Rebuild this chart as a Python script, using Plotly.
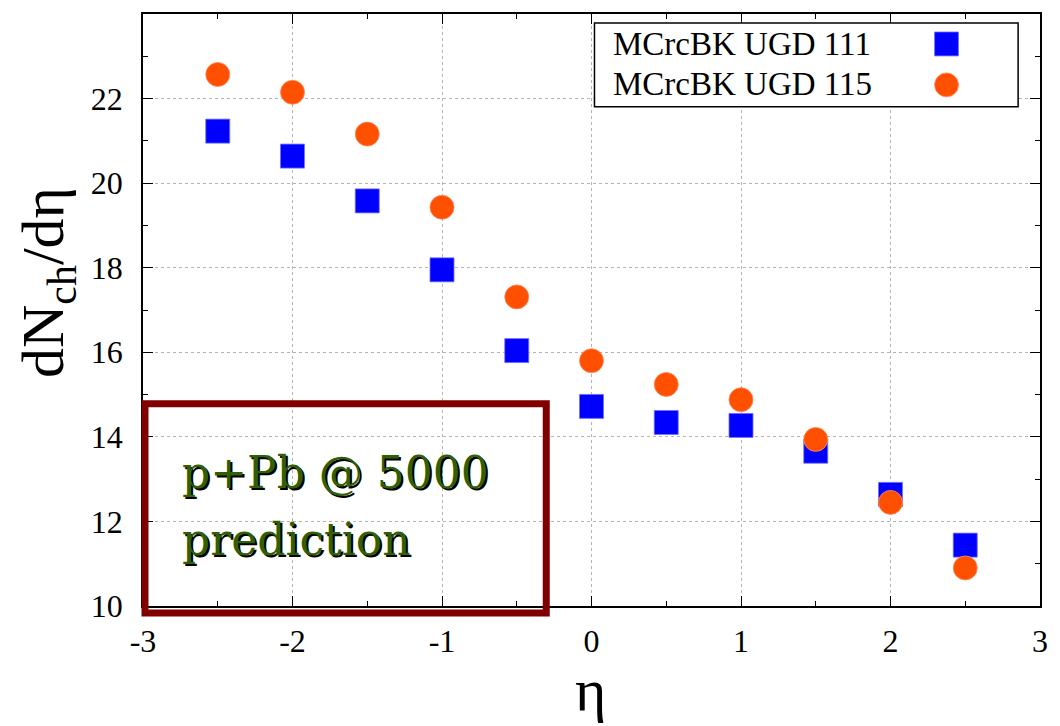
import plotly.graph_objects as go

# ---- data ----
eta = [-2.5, -2.0, -1.5, -1.0, -0.5, 0.0, 0.5, 1.0, 1.5, 2.0, 2.5]
ugd111 = [21.23, 20.64, 19.58, 17.95, 16.04, 14.72, 14.34, 14.27, 13.66, 12.64, 11.44]
ugd115 = [22.57, 22.15, 21.16, 19.43, 17.31, 15.80, 15.24, 14.88, 13.94, 12.45, 10.90]
series_names = ["MCrcBK UGD 111", "MCrcBK UGD 115"]
x_tickvals = [-3, -2, -1, 0, 1, 2, 3]
x_ticktext = ["-3", "-2", "-1", "0", "1", "2", "3"]
y_tickvals = [10, 12, 14, 16, 18, 20, 22]
y_ticktext = ["10", "12", "14", "16", "18", "20", "22"]
box_lines = ["p+Pb @ 5000", "prediction"]

BLUE = "#0000ff"
ORANGE = "#ff5000"
SERIF = "Liberation Serif"

# plot-area pixel geometry
L, R, T, B = 143, 1045, 13, 606
W, H = 1060, 726
def px(xp):
    return (xp - L) / (R - L)
def py(yp):
    return (B - yp) / (B - T)

fig = go.Figure()
fig.add_trace(go.Scatter(
    x=eta, y=ugd111, mode="markers", name=series_names[0],
    marker=dict(symbol="square", size=24, color=BLUE,
                line=dict(color="#7070ff", width=0.8)),
    showlegend=False))
fig.add_trace(go.Scatter(
    x=eta, y=ugd115, mode="markers", name=series_names[1],
    marker=dict(symbol="circle", size=24, color=ORANGE,
                line=dict(color="#ff8a60", width=0.8)),
    showlegend=False))

axis_common = dict(
    showline=True, linecolor="black", linewidth=1.5, mirror="ticks",
    ticks="inside", ticklen=10, tickwidth=1.3, tickcolor="black",
    showgrid=True, gridcolor="#b4b4b4", griddash="dot", gridwidth=1,
    zeroline=False,
    tickfont=dict(family=SERIF, size=32, color="black"),
)

fig.update_xaxes(range=[-3, 3], tickvals=x_tickvals, ticktext=x_ticktext,
                 minor=dict(dtick=0.5, tick0=-3, ticks="inside", ticklen=5,
                            tickcolor="black", tickwidth=1.2, showgrid=False),
                 ticklabelstandoff=6, **axis_common)
fig.update_yaxes(range=[10, 24], tickvals=y_tickvals, ticktext=y_ticktext,
                 minor=dict(dtick=1, tick0=10, ticks="inside", ticklen=5,
                            tickcolor="black", tickwidth=1.2, showgrid=False),
                 ticklabelstandoff=12, **axis_common)

shapes = []
annotations = []

# custom legend (symbols on the right like the original)
shapes.append(dict(type="rect", xref="paper", yref="paper",
                   x0=px(597), x1=px(1023), y0=py(106), y1=py(22),
                   line=dict(color="black", width=1.5), fillcolor="white",
                   layer="above"))
shapes.append(dict(type="rect", xref="paper", yref="paper",
                   x0=px(939), x1=px(963), y0=py(55), y1=py(31),
                   line=dict(color="#7070ff", width=0.8), fillcolor=BLUE,
                   layer="above"))
shapes.append(dict(type="circle", xref="paper", yref="paper",
                   x0=px(939), x1=px(963), y0=py(96), y1=py(72),
                   line=dict(color="#ff8a60", width=0.8), fillcolor=ORANGE,
                   layer="above"))
for name, yc in zip(series_names, [43, 83]):
    annotations.append(dict(text=name, xref="paper", yref="paper",
                            x=px(614), y=py(yc), xanchor="left", yanchor="middle",
                            showarrow=False,
                            font=dict(family=SERIF, size=33, color="black")))

# dark red prediction box
shapes.append(dict(type="rect", xref="paper", yref="paper",
                   x0=px(145), x1=px(548.5), y0=py(613), y1=py(403.5),
                   line=dict(color="#800000", width=7), fillcolor="rgba(0,0,0,0)",
                   layer="above"))
for line, yc in zip(box_lines, [472, 539]):
    annotations.append(dict(text=line, xref="paper", yref="paper",
                            x=px(180), y=py(yc), xanchor="left", yanchor="middle",
                            align="left", showarrow=False,
                            font=dict(family="DejaVu Serif", size=44, color="#2f5f08",
                                      shadow="2px 2px 0px #000000")))

# axis titles
annotations.append(dict(text="dN<sub>ch</sub>/dη", xref="paper", yref="paper",
                        x=px(47), y=py(282), xanchor="center", yanchor="middle",
                        textangle=-90, showarrow=False,
                        font=dict(family=SERIF, size=60, color="black")))
annotations.append(dict(text="η", xref="paper", yref="paper",
                        x=px(593), y=py(725), xanchor="center", yanchor="bottom",
                        showarrow=False,
                        font=dict(family=SERIF, size=60, color="black")))

fig.update_layout(
    width=W, height=H,
    margin=dict(l=L, r=W - R, t=T, b=H - B),
    paper_bgcolor="white", plot_bgcolor="white",
    shapes=shapes, annotations=annotations,
    showlegend=False,
)

fig.write_html("out.html")
